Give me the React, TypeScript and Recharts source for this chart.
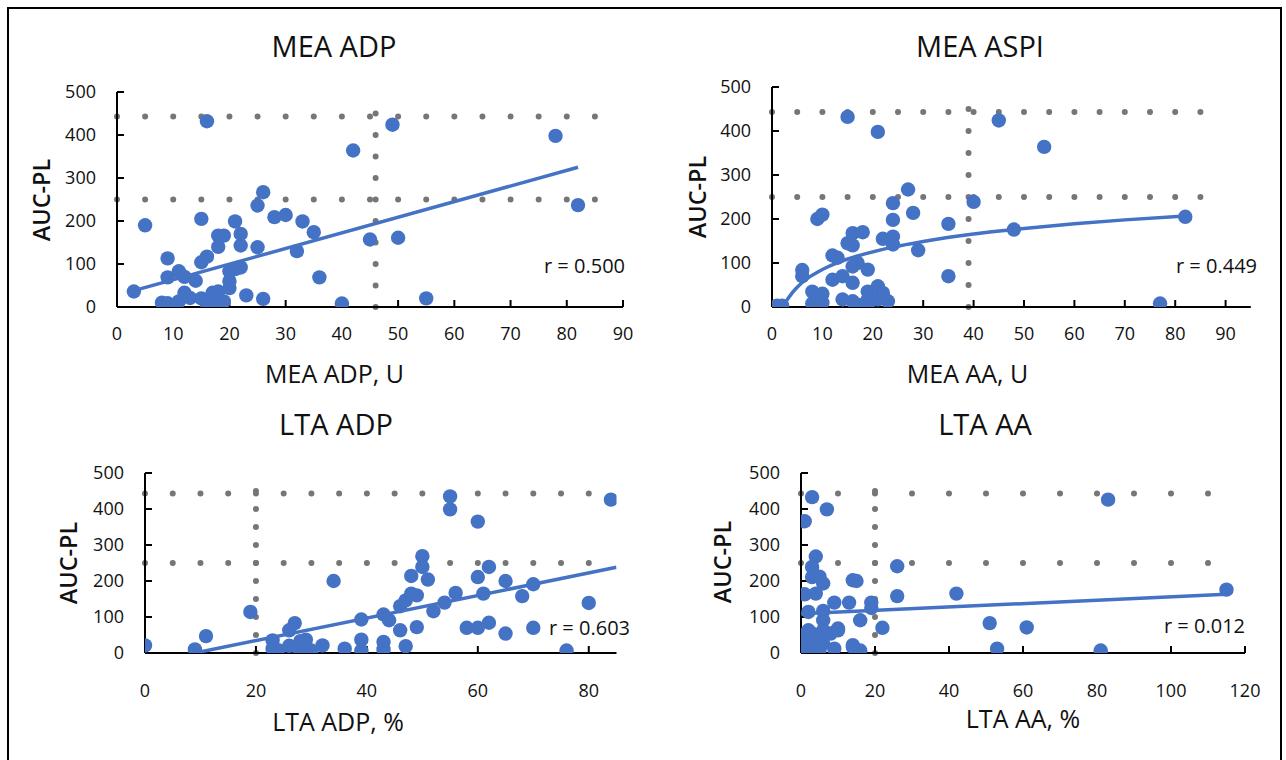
import React from 'react';
import { ScatterChart, Scatter, XAxis, YAxis, ReferenceLine } from 'recharts';

// ---------- data ----------
const yTicks = [0, 100, 200, 300, 400, 500];

const meaAdpX = [3, 5, 16, 9, 9, 11, 12, 14, 8, 9, 9, 11, 12, 13, 15, 16, 17, 18, 18, 19, 20, 20, 20, 22, 21, 15, 16, 15, 18, 19, 18, 21, 22, 22, 25, 26, 25, 23, 26, 28, 30, 33, 35, 32, 36, 40, 42, 45, 49, 50, 78, 82, 55];
const meaAdpY = [36, 190, 432, 113, 69, 83, 70, 61, 10, 9, 3, 13, 33, 21, 20, 7, 33, 36, 9, 13, 44, 60, 83, 92, 88, 104, 117, 205, 166, 166, 140, 199, 170, 143, 236, 267, 139, 27, 19, 209, 214, 199, 174, 130, 69, 8, 364, 157, 424, 161, 398, 237, 20];
const meaAdpTrendX = [3, 82];
const meaAdpTrendY = [38, 325];
const meaAdpTicks = [0, 10, 20, 30, 40, 50, 60, 70, 80, 90];

const meaAspiX = [1, 2, 15, 21, 6, 6, 9, 10, 8, 10, 8, 10, 9, 12, 13, 12, 14, 15, 16, 16, 18, 17, 16, 19, 16, 14, 16, 17, 19, 19, 19, 21, 22, 23, 21, 22, 24, 24, 24, 24, 27, 28, 29, 35, 35, 40, 45, 54, 48, 82, 77];
const meaAspiY = [3, 3, 432, 398, 84, 70, 200, 210, 35, 30, 8, 10, 20, 117, 112, 62, 70, 145, 168, 140, 170, 100, 92, 85, 55, 17, 13, 5, 17, 5, 35, 47, 32, 13, 17, 155, 160, 142, 198, 236, 267, 214, 129, 189, 70, 239, 424, 364, 176, 205, 8];
const meaAspiTrendX = [2.3, 3, 4, 5, 7, 9, 11, 14, 17, 24, 30, 40, 48, 60, 70, 82];
const meaAspiTrendY = [0, 16, 32, 45, 65, 79, 91, 105, 116, 136, 149, 166, 176, 189, 198, 207];
const meaAspiTicks = [0, 10, 20, 30, 40, 50, 60, 70, 80, 90];

const ltaAdpX = [0, 9, 11, 19, 34, 23, 23, 24, 26, 27, 26, 28, 29, 28, 30, 29, 32, 36, 39, 39, 39, 43, 44, 43, 43, 46, 46, 47, 47, 48, 49, 48, 50, 50, 51, 49, 52, 54, 55, 55, 56, 58, 60, 60, 60, 61, 62, 62, 65, 65, 68, 70, 70, 76, 80, 84];
const ltaAdpY = [21, 10, 47, 114, 200, 35, 12, 8, 63, 83, 20, 33, 37, 3, 7, 12, 21, 12, 93, 37, 7, 107, 91, 31, 10, 130, 63, 19, 146, 165, 160, 214, 269, 239, 204, 72, 116, 140, 435, 399, 167, 70, 70, 365, 211, 165, 239, 84, 200, 54, 158, 191, 70, 7, 139, 426];
const ltaAdpTrendX = [9, 85];
const ltaAdpTrendY = [0, 238];
const ltaAdpTicks = [0, 20, 40, 60, 80];

const ltaAaX = [3, 7, 1, 4, 3, 3, 5, 6, 4, 1, 14, 15, 9, 13, 19, 19, 2, 6, 6, 10, 16, 22, 26, 26, 42, 0, 2, 3, 4, 0, 2, 5, 6, 9, 0, 3, 5, 14, 15, 16, 14, 8, 10, 6, 83, 115, 51, 61, 53, 81];
const ltaAaY = [433, 399, 366, 268, 239, 211, 212, 193, 165, 163, 202, 200, 140, 140, 140, 125, 114, 117, 91, 68, 91, 70, 241, 158, 165, 49, 63, 54, 40, 26, 26, 35, 26, 12, 8, 8, 8, 17, 7, 7, 22, 54, 63, 63, 426, 176, 83, 71, 12, 7];
const ltaAaTrendX = [0, 115];
const ltaAaTrendY = [109, 163];
const ltaAaTicks = [0, 20, 40, 60, 80, 100, 120];

const zip = (xs: number[], ys: number[]) => xs.map((x, i) => ({ x, y: ys[i] }));

// ---------- styles ----------
const BLUE = '#4472C4';
const GRAY = '#767676';
const TEXT = '#111';
const FONT = '"Open Sans", sans-serif';

const Dot = (p: any) => <circle cx={p.cx} cy={p.cy} r={7.2} fill={BLUE} />;
const NoShape = () => <g />;

type PanelProps = {
  left: number; top: number; right: number; bottom: number;
  xDomain: [number, number]; xTicks: number[];
  points: { x: number; y: number }[];
  trend: { x: number; y: number }[];
  curved?: boolean;
  vLineX: number; hLineEnd: number; hStep: number;
  xTickMargin: number;
};

function Panel(props: PanelProps) {
  const { left, top, right, bottom, xDomain, xTicks, points, trend, curved, vLineX, hLineEnd, hStep, xTickMargin } = props;
  const ML = 80, MR = 20, MT = 12, MB = 60;
  const w = right - left;
  const h = bottom - top;
  const hGap = (w / (xDomain[1] - xDomain[0])) * hStep;
  const vGap = (h / 500) * 50;
  return (
    <div style={{ position: 'absolute', left: left - ML, top: top - MT }}>
      <ScatterChart width={w + ML + MR} height={h + MT + MB} margin={{ top: MT, right: MR, bottom: 0, left: 0 }}>
        <XAxis
          type="number" dataKey="x" domain={xDomain} ticks={xTicks} interval={0} height={MB}
          allowDataOverflow
          axisLine={{ stroke: '#000', strokeWidth: 2 }}
          tickLine={{ stroke: '#000', strokeWidth: 2 }}
          tickSize={-7} tickMargin={xTickMargin}
          tick={{ fill: TEXT, fontSize: 18, fontFamily: FONT }}
        />
        <YAxis
          type="number" dataKey="y" domain={[0, 500]} ticks={yTicks} interval={0} width={ML}
          allowDataOverflow
          axisLine={{ stroke: '#000', strokeWidth: 2 }}
          tickLine={{ stroke: '#000', strokeWidth: 2 }}
          tickSize={-7} tickMargin={28}
          tick={{ fill: TEXT, fontSize: 18, fontFamily: FONT }}
        />
        <ReferenceLine segment={[{ x: 0, y: 443 }, { x: hLineEnd, y: 443 }]} stroke={GRAY} strokeWidth={6} strokeDasharray={`0 ${hGap}`} strokeLinecap="round" ifOverflow="visible" />
        <ReferenceLine segment={[{ x: 0, y: 250 }, { x: hLineEnd, y: 250 }]} stroke={GRAY} strokeWidth={6} strokeDasharray={`0 ${hGap}`} strokeLinecap="round" ifOverflow="visible" />
        <ReferenceLine segment={[{ x: vLineX, y: 0 }, { x: vLineX, y: 500 }]} stroke={GRAY} strokeWidth={6} strokeDasharray={`0 ${vGap}`} strokeLinecap="round" ifOverflow="visible" />
        <Scatter data={points} shape={Dot} isAnimationActive={false} />
        <Scatter
          data={trend} shape={NoShape} isAnimationActive={false}
          line={{ stroke: BLUE, strokeWidth: 3.5 }}
          lineJointType={curved ? 'monotoneX' : 'linear'}
        />
      </ScatterChart>
    </div>
  );
}

const Txt = ({ x, y, children, size, anchor = 'center', rotate = false, weight = 400 }: any) => (
  <div
    style={{
      position: 'absolute', left: x, top: y, fontSize: size, fontFamily: FONT, color: TEXT,
      lineHeight: 1, whiteSpace: 'nowrap', fontWeight: weight,
      transform: `translate(${anchor === 'end' ? '-100%' : '-50%'}, -50%)${rotate ? ' rotate(-90deg)' : ''}`,
      transformOrigin: anchor === 'end' ? '100% 50%' : '50% 50%',
    }}
  >
    {children}
  </div>
);

export default function App() {
  return (
    <div style={{ position: 'absolute', left: 0, top: 0, width: 1286, height: 760, overflow: 'hidden', background: '#fff', fontFamily: FONT }}>
      <div style={{ position: 'absolute', left: 7, top: 7, width: 1271, height: 800, border: '2px solid #000' }} />

      <Panel left={117} top={92.3} right={623} bottom={307.3} xDomain={[0, 90]} xTicks={meaAdpTicks}
        points={zip(meaAdpX, meaAdpY)} trend={zip(meaAdpTrendX, meaAdpTrendY)}
        vLineX={46} hLineEnd={85} hStep={5} xTickMargin={27} />
      <Panel left={771.7} top={87.3} right={1250.5} bottom={307.3} xDomain={[0, 95]} xTicks={meaAspiTicks}
        points={zip(meaAspiX, meaAspiY)} trend={zip(meaAspiTrendX, meaAspiTrendY)} curved
        vLineX={39} hLineEnd={90} hStep={5} xTickMargin={27} />
      <Panel left={144.5} top={472.7} right={616} bottom={652.7} xDomain={[0, 85]} xTicks={ltaAdpTicks}
        points={zip(ltaAdpX, ltaAdpY)} trend={zip(ltaAdpTrendX, ltaAdpTrendY)}
        vLineX={20} hLineEnd={85} hStep={5} xTickMargin={38} />
      <Panel left={800.5} top={472.7} right={1244.5} bottom={652.7} xDomain={[0, 120]} xTicks={ltaAaTicks}
        points={zip(ltaAaX, ltaAaY)} trend={zip(ltaAaTrendX, ltaAaTrendY)}
        vLineX={20} hLineEnd={120} hStep={10} xTickMargin={38} />

      <Txt x={334} y={45} size={29}>MEA ADP</Txt>
      <Txt x={980} y={45} size={29}>MEA ASPI</Txt>
      <Txt x={336} y={423} size={29}>LTA ADP</Txt>
      <Txt x={985} y={423} size={29}>LTA AA</Txt>

      <Txt x={334.5} y={373} size={25}>MEA ADP, U</Txt>
      <Txt x={967.5} y={373} size={25}>MEA AA, U</Txt>
      <Txt x={338} y={721} size={25}>LTA ADP, %</Txt>
      <Txt x={1023} y={718} size={25}>LTA AA, %</Txt>

      <Txt x={42} y={200} size={23.5} weight={600} rotate>AUC-PL</Txt>
      <Txt x={698} y={197} size={23.5} weight={600} rotate>AUC-PL</Txt>
      <Txt x={69} y={563} size={23.5} weight={600} rotate>AUC-PL</Txt>
      <Txt x={723} y={562} size={23.5} weight={600} rotate>AUC-PL</Txt>

      <Txt x={625} y={266} size={20} anchor="end">r = 0.500</Txt>
      <Txt x={1257} y={266} size={20} anchor="end">r = 0.449</Txt>
      <Txt x={630} y={628} size={20} anchor="end">r = 0.603</Txt>
      <Txt x={1245} y={626} size={20} anchor="end">r = 0.012</Txt>
    </div>
  );
}
